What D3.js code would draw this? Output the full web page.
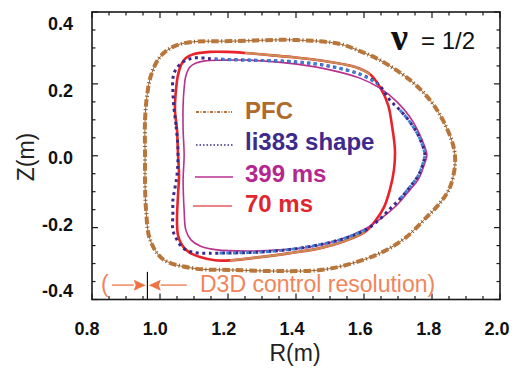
<!DOCTYPE html>
<html><head><meta charset="utf-8">
<script src="https://cdn.jsdelivr.net/npm/d3@7"></script>
<style>body{margin:0;background:#fff}svg{display:block}</style>
</head><body>
<svg id="c" width="513" height="369"></svg>
<script>
// ---- data ----
const xTicks = [0.8, 1.0, 1.2, 1.4, 1.6, 1.8, 2.0];
const xTickLabels = ["0.8", "1.0", "1.2", "1.4", "1.6", "1.8", "2.0"];
const yTicks = [-0.4, -0.2, 0.0, 0.2, 0.4];
const yTickLabels = ["-0.4", "-0.2", "0.0", "0.2", "0.4"];
const seriesNames = ["PFC", "li383 shape", "399 ms", "70 ms"];

const pfc = [[0.956,0.000],[0.956,0.099],[0.962,0.168],[0.974,0.225],[1.000,0.275],[1.038,0.303],[1.088,0.316],[1.215,0.319],[1.403,0.322],[1.529,0.311],[1.588,0.291],[1.647,0.266],[1.735,0.211],[1.794,0.155],[1.832,0.099],[1.862,0.030],[1.868,-0.020],[1.853,-0.087],[1.824,-0.131],[1.785,-0.170],[1.721,-0.229],[1.647,-0.271],[1.559,-0.301],[1.471,-0.318],[1.353,-0.321],[1.215,-0.318],[1.097,-0.313],[1.009,-0.288],[0.971,-0.234],[0.959,-0.151],[0.956,-0.081]];

const li383 = [[1.053,0.016],[1.047,0.086],[1.041,0.133],[1.038,0.177],[1.038,0.216],[1.047,0.241],[1.068,0.261],[1.097,0.272],[1.126,0.272],[1.162,0.269],[1.265,0.266],[1.403,0.261],[1.500,0.249],[1.588,0.227],[1.641,0.200],[1.676,0.155],[1.706,0.127],[1.735,0.094],[1.759,0.058],[1.774,0.024],[1.779,0.002],[1.774,-0.020],[1.759,-0.056],[1.735,-0.087],[1.706,-0.120],[1.676,-0.148],[1.647,-0.176],[1.603,-0.207],[1.529,-0.234],[1.412,-0.257],[1.294,-0.268],[1.168,-0.271],[1.126,-0.271],[1.094,-0.268],[1.068,-0.257],[1.050,-0.234],[1.038,-0.207],[1.038,-0.160],[1.038,-0.123],[1.044,-0.090],[1.050,-0.054]];

const ms399 = [[1.071,0.002],[1.068,0.072],[1.068,0.141],[1.071,0.188],[1.076,0.222],[1.088,0.247],[1.106,0.258],[1.132,0.264],[1.185,0.266],[1.265,0.266],[1.403,0.255],[1.500,0.239],[1.588,0.216],[1.647,0.188],[1.697,0.150],[1.735,0.108],[1.762,0.063],[1.779,0.024],[1.785,0.002],[1.779,-0.020],[1.759,-0.067],[1.735,-0.095],[1.697,-0.137],[1.656,-0.170],[1.603,-0.204],[1.529,-0.234],[1.441,-0.254],[1.353,-0.262],[1.265,-0.265],[1.168,-0.262],[1.118,-0.251],[1.091,-0.234],[1.076,-0.207],[1.071,-0.151],[1.068,-0.067]];

const ms70 = [[1.050,0.072],[1.044,0.127],[1.047,0.183],[1.053,0.225],[1.062,0.253],[1.076,0.272],[1.100,0.283],[1.147,0.289],[1.197,0.289],[1.250,0.286],[1.324,0.280],[1.412,0.272],[1.500,0.261],[1.574,0.247],[1.618,0.227],[1.647,0.191],[1.671,0.141],[1.682,0.086],[1.691,0.016],[1.688,-0.040],[1.676,-0.095],[1.659,-0.143],[1.635,-0.179],[1.603,-0.212],[1.544,-0.237],[1.471,-0.257],[1.382,-0.271],[1.294,-0.282],[1.206,-0.291],[1.162,-0.291],[1.118,-0.282],[1.085,-0.268],[1.065,-0.249],[1.053,-0.221],[1.050,-0.179],[1.053,-0.109],[1.056,-0.054],[1.053,0.002]];

const nuLabel = "\u03BD";
const nuValue = "= 1/2";
const resolutionText = "D3D control resolution)";
const resolutionMarkR = 0.963;
const resolutionArrowR = [[0.859, 0.958], [1.079, 0.967]];

// ---- scales ----
const svg = d3.select("#c");
const x = d3.scaleLinear().domain([0.8, 2.0]).range([92, 500]);
const y = d3.scaleLinear().domain([-0.4, 0.4]).range([299.5, 12]);
const xLab = d3.scaleLinear().domain([0.8, 2.0]).range([87, 497]);
const yLab = d3.scaleLinear().domain([-0.4, 0.4]).range([291, 24]);

const closed = d3.line().x(d => x(d[0])).y(d => y(d[1])).curve(d3.curveCatmullRomClosed.alpha(0.5));
const open = d3.line().x(d => x(d[0])).y(d => y(d[1])).curve(d3.curveCatmullRom.alpha(0.5));

// ---- curves ----
const g = svg.append("g");
// PFC dash-dot
g.append("path").attr("d", closed(pfc)).attr("fill", "none").attr("stroke", "#a8672e").attr("stroke-width", 1);
g.append("path").attr("d", closed(pfc)).attr("fill", "none").attr("stroke", "#b8763a").attr("stroke-width", 4).attr("stroke-dasharray", "7.5,6");
g.append("path").attr("d", closed(pfc)).attr("fill", "none").attr("stroke", "#8a5a2a").attr("stroke-width", 4).attr("stroke-dasharray", "1,12.5").attr("stroke-dashoffset", 3.5);

// 70 ms red
g.append("path").attr("d", closed(ms70)).attr("fill", "none").attr("stroke", "#e8232b").attr("stroke-width", 2.6);
// tan overlay on the flat parts
g.append("path").attr("d", open(ms70.slice(9, 15))).attr("fill", "none").attr("stroke", "#c98e55").attr("stroke-width", 2.2);
g.append("path").attr("d", open(ms70.slice(23, 29))).attr("fill", "none").attr("stroke", "#c98e55").attr("stroke-width", 2.2);

// 399 ms magenta
g.append("path").attr("d", closed(ms399)).attr("fill", "none").attr("stroke", "#b8318f").attr("stroke-width", 1.6);

// li383 dotted (navy + blue parts)
g.append("path").attr("d", closed(li383)).attr("fill", "none").attr("stroke", "#3b2a8a").attr("stroke-width", 3).attr("stroke-dasharray", "3,3.6");
[[9, 15], [16, 25], [27, 32]].forEach(([a, b]) => {
  g.append("path").attr("d", open(li383.slice(a, b))).attr("fill", "none").attr("stroke", "#3d82d2").attr("stroke-width", 3).attr("stroke-dasharray", "3,3.6");
});

// ---- frame & ticks ----
const fr = svg.append("g");
fr.append("rect").attr("x", 92).attr("y", 12).attr("width", 408).attr("height", 287.5)
  .attr("fill", "none").attr("stroke", "#1a1a1a").attr("stroke-width", 1.6);
const minorX = d3.range(0.8, 2.0001, 0.05).map(v => +v.toFixed(2));
const minorY = d3.range(-0.4, 0.4001, 0.05).map(v => +v.toFixed(2));
const isMajor = v => Math.abs(Math.round(v * 5) - v * 5) < 1e-6;
minorX.forEach(v => {
  const L = isMajor(v) ? 6 : 3.5;
  fr.append("line").attr("x1", x(v)).attr("x2", x(v)).attr("y1", 299.5).attr("y2", 299.5 - L).attr("stroke", "#1a1a1a").attr("stroke-width", 1.2);
  fr.append("line").attr("x1", x(v)).attr("x2", x(v)).attr("y1", 12).attr("y2", 12 + L).attr("stroke", "#1a1a1a").attr("stroke-width", 1.2);
});
minorY.forEach(v => {
  const L = isMajor(v) ? 6 : 3.5;
  fr.append("line").attr("y1", y(v)).attr("y2", y(v)).attr("x1", 92).attr("x2", 92 + L).attr("stroke", "#1a1a1a").attr("stroke-width", 1.2);
  fr.append("line").attr("y1", y(v)).attr("y2", y(v)).attr("x1", 500).attr("x2", 500 - L).attr("stroke", "#1a1a1a").attr("stroke-width", 1.2);
});

// tick labels
svg.selectAll(".xl").data(xTicks).enter().append("text")
  .attr("x", (d) => xLab(d)).attr("y", 335).attr("text-anchor", "middle")
  .attr("font-family", "Liberation Sans, Arial, sans-serif").attr("font-weight", "bold").attr("font-size", 18).attr("fill", "#111")
  .text((d, i) => xTickLabels[i]);
svg.selectAll(".yl").data(yTicks).enter().append("text")
  .attr("x", 73).attr("y", d => yLab(d)).attr("dy", "0.36em").attr("text-anchor", "end")
  .attr("font-family", "Liberation Sans, Arial, sans-serif").attr("font-weight", "bold").attr("font-size", 18).attr("fill", "#111")
  .text((d, i) => yTickLabels[i]);

// axis titles
svg.append("text").attr("x", 295).attr("y", 361).attr("text-anchor", "middle")
  .attr("font-family", "Liberation Sans, Arial, sans-serif").attr("font-size", 23).attr("fill", "#222").text("R(m)");
svg.append("text").attr("transform", "translate(34,157) rotate(-90)").attr("text-anchor", "middle")
  .attr("font-family", "Liberation Sans, Arial, sans-serif").attr("font-size", 23).attr("fill", "#222").text("Z(m)");

// ---- legend ----
const legColors = ["#b06a2c", "#3d2a8c", "#b5278f", "#e2262e"];
const legBase = [119, 150, 181.5, 211.5];
const legLineY = [112, 145, 177, 206];
const lg = svg.append("g");
seriesNames.forEach((name, i) => {
  lg.append("text").attr("x", 245).attr("y", legBase[i])
    .attr("font-family", "Liberation Sans, Arial, sans-serif").attr("font-weight", "bold").attr("font-size", 24)
    .attr("fill", legColors[i]).text(name);
});
lg.append("line").attr("x1", 196).attr("x2", 232).attr("y1", legLineY[0]).attr("y2", legLineY[0])
  .attr("stroke", "#b8763a").attr("stroke-width", 2).attr("stroke-dasharray", "3,1.5,1,1.5");
lg.append("line").attr("x1", 196).attr("x2", 233).attr("y1", legLineY[1]).attr("y2", legLineY[1])
  .attr("stroke", "#3b2a8a").attr("stroke-width", 1.5).attr("stroke-dasharray", "1.5,2");
lg.append("line").attr("x1", 195).attr("x2", 233).attr("y1", legLineY[2]).attr("y2", legLineY[2])
  .attr("stroke", "#b8318f").attr("stroke-width", 1.6);
lg.append("line").attr("x1", 193).attr("x2", 232).attr("y1", legLineY[3]).attr("y2", legLineY[3])
  .attr("stroke", "#e85a5e").attr("stroke-width", 1.6);

// nu label
svg.append("text").attr("x", 391).attr("y", 50).attr("font-family", "Liberation Serif, serif").attr("font-weight", "bold").attr("font-size", 38).attr("fill", "#111").text(nuLabel);
svg.append("text").attr("x", 421).attr("y", 49).attr("font-family", "Liberation Sans, Arial, sans-serif").attr("font-size", 24).attr("fill", "#111").text(nuValue);

// ---- resolution annotation ----
const aZ = -0.36;
const an = svg.append("g");
an.append("line").attr("x1", x(resolutionMarkR)).attr("x2", x(resolutionMarkR)).attr("y1", y(-0.323)).attr("y2", y(-0.4))
  .attr("stroke", "#111").attr("stroke-width", 1.2);
resolutionArrowR.forEach(([r0, r1]) => {
  const x0 = x(r0), x1 = x(r1), dir = Math.sign(x1 - x0), yy = y(aZ);
  const head = 12;
  an.append("line").attr("x1", x0).attr("x2", x1 - dir * head).attr("y1", yy).attr("y2", yy)
    .attr("stroke", "#f29a78").attr("stroke-width", 1.8);
  an.append("path").attr("d", `M${x1},${yy} L${x1 - dir * head},${yy - 5.5} L${x1 - dir * head + dir * 2},${yy} L${x1 - dir * head},${yy + 5.5} Z`)
    .attr("fill", "#ef7445");
});
an.append("text").attr("x", 101).attr("y", 292).attr("font-family", "Liberation Sans, Arial, sans-serif").attr("font-size", 23).attr("fill", "#f2845c").text("(");
an.append("text").attr("x", 200).attr("y", 292).attr("font-family", "Liberation Sans, Arial, sans-serif").attr("font-size", 23).attr("fill", "#f2845c").text(resolutionText);
</script>
</body></html>
